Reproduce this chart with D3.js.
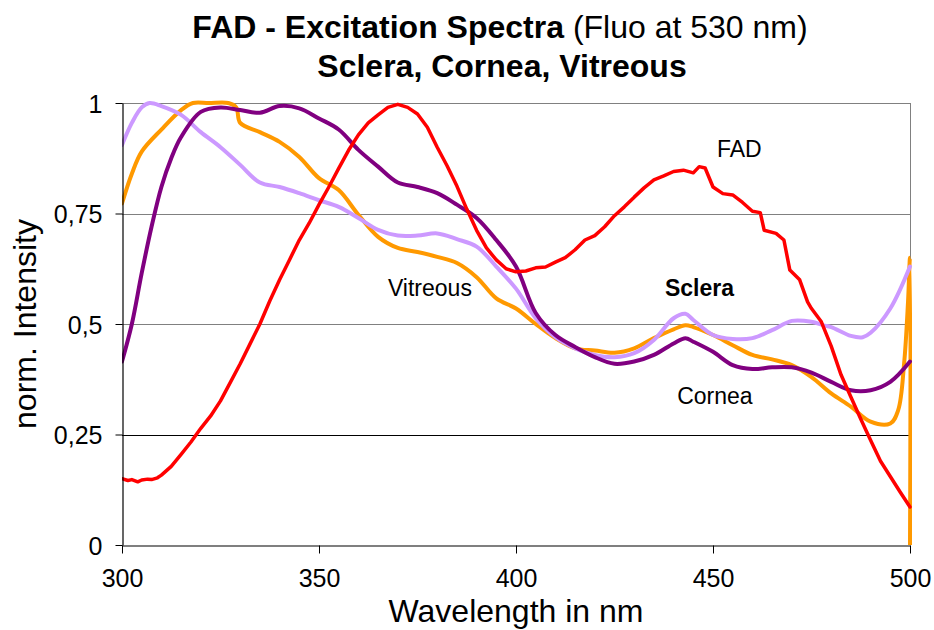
<!DOCTYPE html>
<html>
<head>
<meta charset="utf-8">
<script src="https://cdn.jsdelivr.net/npm/d3@7/dist/d3.min.js"></script>
<style>
  html, body { margin: 0; padding: 0; background: #fff; }
  svg { display: block; font-family: "Liberation Sans", Arial, sans-serif; }
</style>
</head>
<body>
<svg id="chart" width="934" height="630"></svg>
<script>
// Excitation spectra (emission at 530 nm), normalised intensities

const xTicks = [300, 350, 400, 450, 500];
const yTicks = [0, 0.25, 0.5, 0.75, 1];
const yTickLabels = ["0", "0,25", "0,5", "0,75", "1"];

// FAD
const fadWl = [300, 301.5, 302.5, 304, 305, 306.5, 307.5, 309, 310, 312.5, 315, 317.5, 320, 322.5, 325, 327.5, 330, 332.5,
  335, 337.5, 340, 342.5, 345, 347.5, 350, 352.5, 355, 357.5, 360, 362.5, 365, 367.5, 370, 372.5, 375, 377.5, 380, 382.5,
  385, 387.5, 390, 392.5, 395, 397.5, 400, 402.5, 405, 407.5, 410, 412.5, 415, 417.5, 420, 422.5, 425, 427.5,
  430, 432.5, 435, 437.5, 440, 442.5, 445, 446.5, 448, 450, 452.5, 455, 457.5, 460, 462, 463, 466, 468, 469.5,
  472, 474, 475, 477.5, 480, 482.5, 485, 487.5, 490, 492.5, 495, 497.5, 500];
const fadVal = [0.150, 0.146, 0.148, 0.143, 0.147, 0.149, 0.148, 0.152, 0.158, 0.178, 0.205, 0.233, 0.264, 0.292, 0.326, 0.368, 0.410, 0.455,
  0.500, 0.552, 0.600, 0.645, 0.690, 0.728, 0.770, 0.810, 0.852, 0.893, 0.928, 0.955, 0.973, 0.990, 0.997, 0.990, 0.975, 0.945, 0.900, 0.858,
  0.812, 0.760, 0.712, 0.672, 0.645, 0.625, 0.618, 0.620, 0.627, 0.629, 0.640, 0.650, 0.668, 0.690, 0.700, 0.720, 0.745, 0.765,
  0.787, 0.808, 0.826, 0.835, 0.845, 0.848, 0.842, 0.856, 0.853, 0.810, 0.795, 0.792, 0.775, 0.755, 0.752, 0.712, 0.705, 0.690, 0.622,
  0.600, 0.550, 0.535, 0.505, 0.450, 0.385, 0.335, 0.285, 0.237, 0.190, 0.155, 0.120, 0.086];

// Cornea
const corneaWl = [300, 302.5, 305, 307.5, 310, 312.5, 315, 320, 325, 330, 335, 340, 345, 350, 355, 360, 365, 370, 375, 380,
  385, 390, 395, 400, 405, 410, 415, 420, 425, 430, 435, 440, 443, 445, 450, 455, 460, 465, 470, 475, 480, 485, 490, 495, 500];
const corneaVal = [0.415, 0.50, 0.615, 0.72, 0.81, 0.875, 0.923, 0.980, 0.990, 0.984, 0.978, 0.993, 0.988, 0.965, 0.940, 0.894,
  0.856, 0.820, 0.810, 0.796, 0.770, 0.740, 0.690, 0.630, 0.525, 0.475, 0.448, 0.425, 0.410, 0.415, 0.430, 0.456, 0.468, 0.460,
  0.437, 0.407, 0.398, 0.402, 0.402, 0.390, 0.369, 0.350, 0.350, 0.369, 0.415];

// Sclera
const scleraWl = [300, 302.5, 305, 307, 310, 315, 320, 325, 330, 335, 340, 345, 350, 355, 360, 365, 370, 375, 380, 385,
  390, 395, 400, 405, 410, 415, 420, 425, 430, 435, 440, 443, 445, 450, 455, 460, 465, 470, 475, 478, 480, 485, 488, 490,
  495, 500];
const scleraVal = [0.905, 0.955, 0.990, 1.0, 0.993, 0.973, 0.934, 0.900, 0.860, 0.820, 0.810, 0.796, 0.780, 0.765, 0.740, 0.713,
  0.700, 0.700, 0.705, 0.692, 0.675, 0.630, 0.580, 0.513, 0.470, 0.445, 0.430, 0.425, 0.434, 0.464, 0.513, 0.523, 0.509, 0.475,
  0.466, 0.468, 0.486, 0.507, 0.505, 0.497, 0.493, 0.473, 0.470, 0.480, 0.535, 0.630];

// Vitreous
const vitreousWl = [300, 302.5, 305, 310, 315, 318, 322, 327, 329, 330, 335, 340, 345, 350, 355, 360, 365, 370, 375, 380,
  385, 390, 395, 400, 405, 410, 415, 420, 425, 430, 435, 440, 443, 445, 450, 455, 460, 465, 470, 475, 480, 485, 490, 495,
  497, 498.5, 499.5, 500, 500];
const vitreousVal = [0.773, 0.840, 0.890, 0.940, 0.984, 1.0, 1.0, 1.0, 0.990, 0.955, 0.934, 0.912, 0.878, 0.830, 0.803, 0.747,
  0.697, 0.672, 0.663, 0.652, 0.638, 0.606, 0.558, 0.535, 0.500, 0.468, 0.445, 0.440, 0.435, 0.445, 0.468, 0.488, 0.497, 0.493,
  0.475, 0.452, 0.430, 0.420, 0.407, 0.380, 0.343, 0.313, 0.279, 0.275, 0.305, 0.410, 0.550, 0.650, 0.0];

const series = [
  { name: "Vitreous", color: "#FF9900", wl: vitreousWl, val: vitreousVal, width: 4, smooth: true },
  { name: "Sclera", color: "#CC99FF", wl: scleraWl, val: scleraVal, width: 4, smooth: true },
  { name: "Cornea", color: "#800080", wl: corneaWl, val: corneaVal, width: 4, smooth: true },
  { name: "FAD", color: "#FF0000", wl: fadWl, val: fadVal, width: 3.5, smooth: false }
];

// curve captions, anchored in data coordinates (left edge, baseline)
const captions = [
  { text: "FAD", wl: 451, v: 0.878, bold: false },
  { text: "Vitreous", wl: 367.5, v: 0.563, bold: false },
  { text: "Sclera", wl: 437.8, v: 0.563, bold: true },
  { text: "Cornea", wl: 440.9, v: 0.319, bold: false }
];

const svg = d3.select("#chart");
const margin = { left: 122, right: 24, top: 103, bottom: 85 };
const W = 934, H = 630;

const x = d3.scaleLinear().domain([300, 500]).range([margin.left, W - margin.right]);
const y = d3.scaleLinear().domain([0, 1]).range([H - margin.bottom, margin.top]);

// horizontal gridlines
svg.append("g")
  .selectAll("line")
  .data(yTicks.filter(d => d > 0))
  .join("line")
  .attr("x1", x(300)).attr("x2", x(500))
  .attr("y1", d => Math.round(y(d)) + 0.5).attr("y2", d => Math.round(y(d)) + 0.5)
  .attr("stroke", d => d === 0.25 ? "#000" : "#808080")
  .attr("stroke-width", 1);

// right edge of plot area
svg.append("line")
  .attr("x1", x(500) + 0.5).attr("x2", x(500) + 0.5)
  .attr("y1", y(1)).attr("y2", y(0))
  .attr("stroke", "#808080");

// curves
svg.append("defs").append("clipPath").attr("id", "plotClip")
  .append("rect")
  .attr("x", x(300)).attr("y", y(1) - 3)
  .attr("width", x(500) - x(300) + 2).attr("height", y(0) - y(1) + 3);

const smoothLine = d3.line().x(d => x(d[0])).y(d => y(d[1])).curve(d3.curveCatmullRom.alpha(0.5));
const rawLine = d3.line().x(d => x(d[0])).y(d => y(d[1]));
const plot = svg.append("g").attr("clip-path", "url(#plotClip)");
series.forEach(s => {
  plot.append("path")
    .datum(s.wl.map((w, i) => [w, s.val[i]]))
    .attr("d", s.smooth ? smoothLine : rawLine)
    .attr("fill", "none")
    .attr("stroke", s.color)
    .attr("stroke-width", s.width)
    .attr("stroke-linejoin", "round")
    .attr("stroke-linecap", "round");
});

// axes
const xAxis = d3.axisBottom(x).tickValues(xTicks).tickSize(8).tickSizeOuter(0).tickPadding(16);
const yAxis = d3.axisLeft(y).tickValues(yTicks).tickSize(7).tickSizeOuter(0).tickPadding(13)
  .tickFormat((d, i) => yTickLabels[i]);

const gx = svg.append("g").attr("transform", `translate(0,${Math.round(y(0)) + 0.5})`).call(xAxis);
const gy = svg.append("g").attr("transform", `translate(${Math.round(x(300)) + 0.5},0)`).call(yAxis);

[gx, gy].forEach(g => {
  g.selectAll(".domain").attr("stroke", "#000").attr("stroke-width", 1.2);
  g.selectAll(".tick line").attr("stroke", "#000");
  g.selectAll(".tick text")
    .attr("fill", "#000")
    .style("font-family", "'Liberation Sans', Arial, sans-serif")
    .style("font-size", "25px");
});
gx.selectAll(".tick text").attr("dy", "0.71em");
gy.selectAll(".tick text").attr("dy", "0.36em");

// captions
svg.append("g")
  .selectAll("text")
  .data(captions)
  .join("text")
  .attr("x", d => x(d.wl))
  .attr("y", d => y(d.v))
  .style("font-size", "23px")
  .style("font-weight", d => d.bold ? "bold" : "normal")
  .attr("fill", "#000")
  .text(d => d.text);

// title
const t1 = svg.append("text").attr("x", 500).attr("y", 38)
  .attr("text-anchor", "middle").style("font-size", "32px").attr("fill", "#000");
t1.append("tspan").style("font-weight", "bold").text("FAD - Excitation Spectra");
t1.append("tspan").text(" (Fluo at 530 nm)");
svg.append("text").attr("x", 502).attr("y", 77)
  .attr("text-anchor", "middle").style("font-size", "32px").style("font-weight", "bold")
  .attr("fill", "#000").text("Sclera, Cornea, Vitreous");

// axis titles
svg.append("text")
  .attr("x", 516).attr("y", 622)
  .attr("text-anchor", "middle").style("font-size", "32px").attr("fill", "#000")
  .text("Wavelength in nm");
svg.append("text")
  .attr("transform", `translate(36,${(y(0) + y(1)) / 2}) rotate(-90)`)
  .attr("text-anchor", "middle").style("font-size", "32px").attr("fill", "#000")
  .text("norm. Intensity");
</script>
</body>
</html>
